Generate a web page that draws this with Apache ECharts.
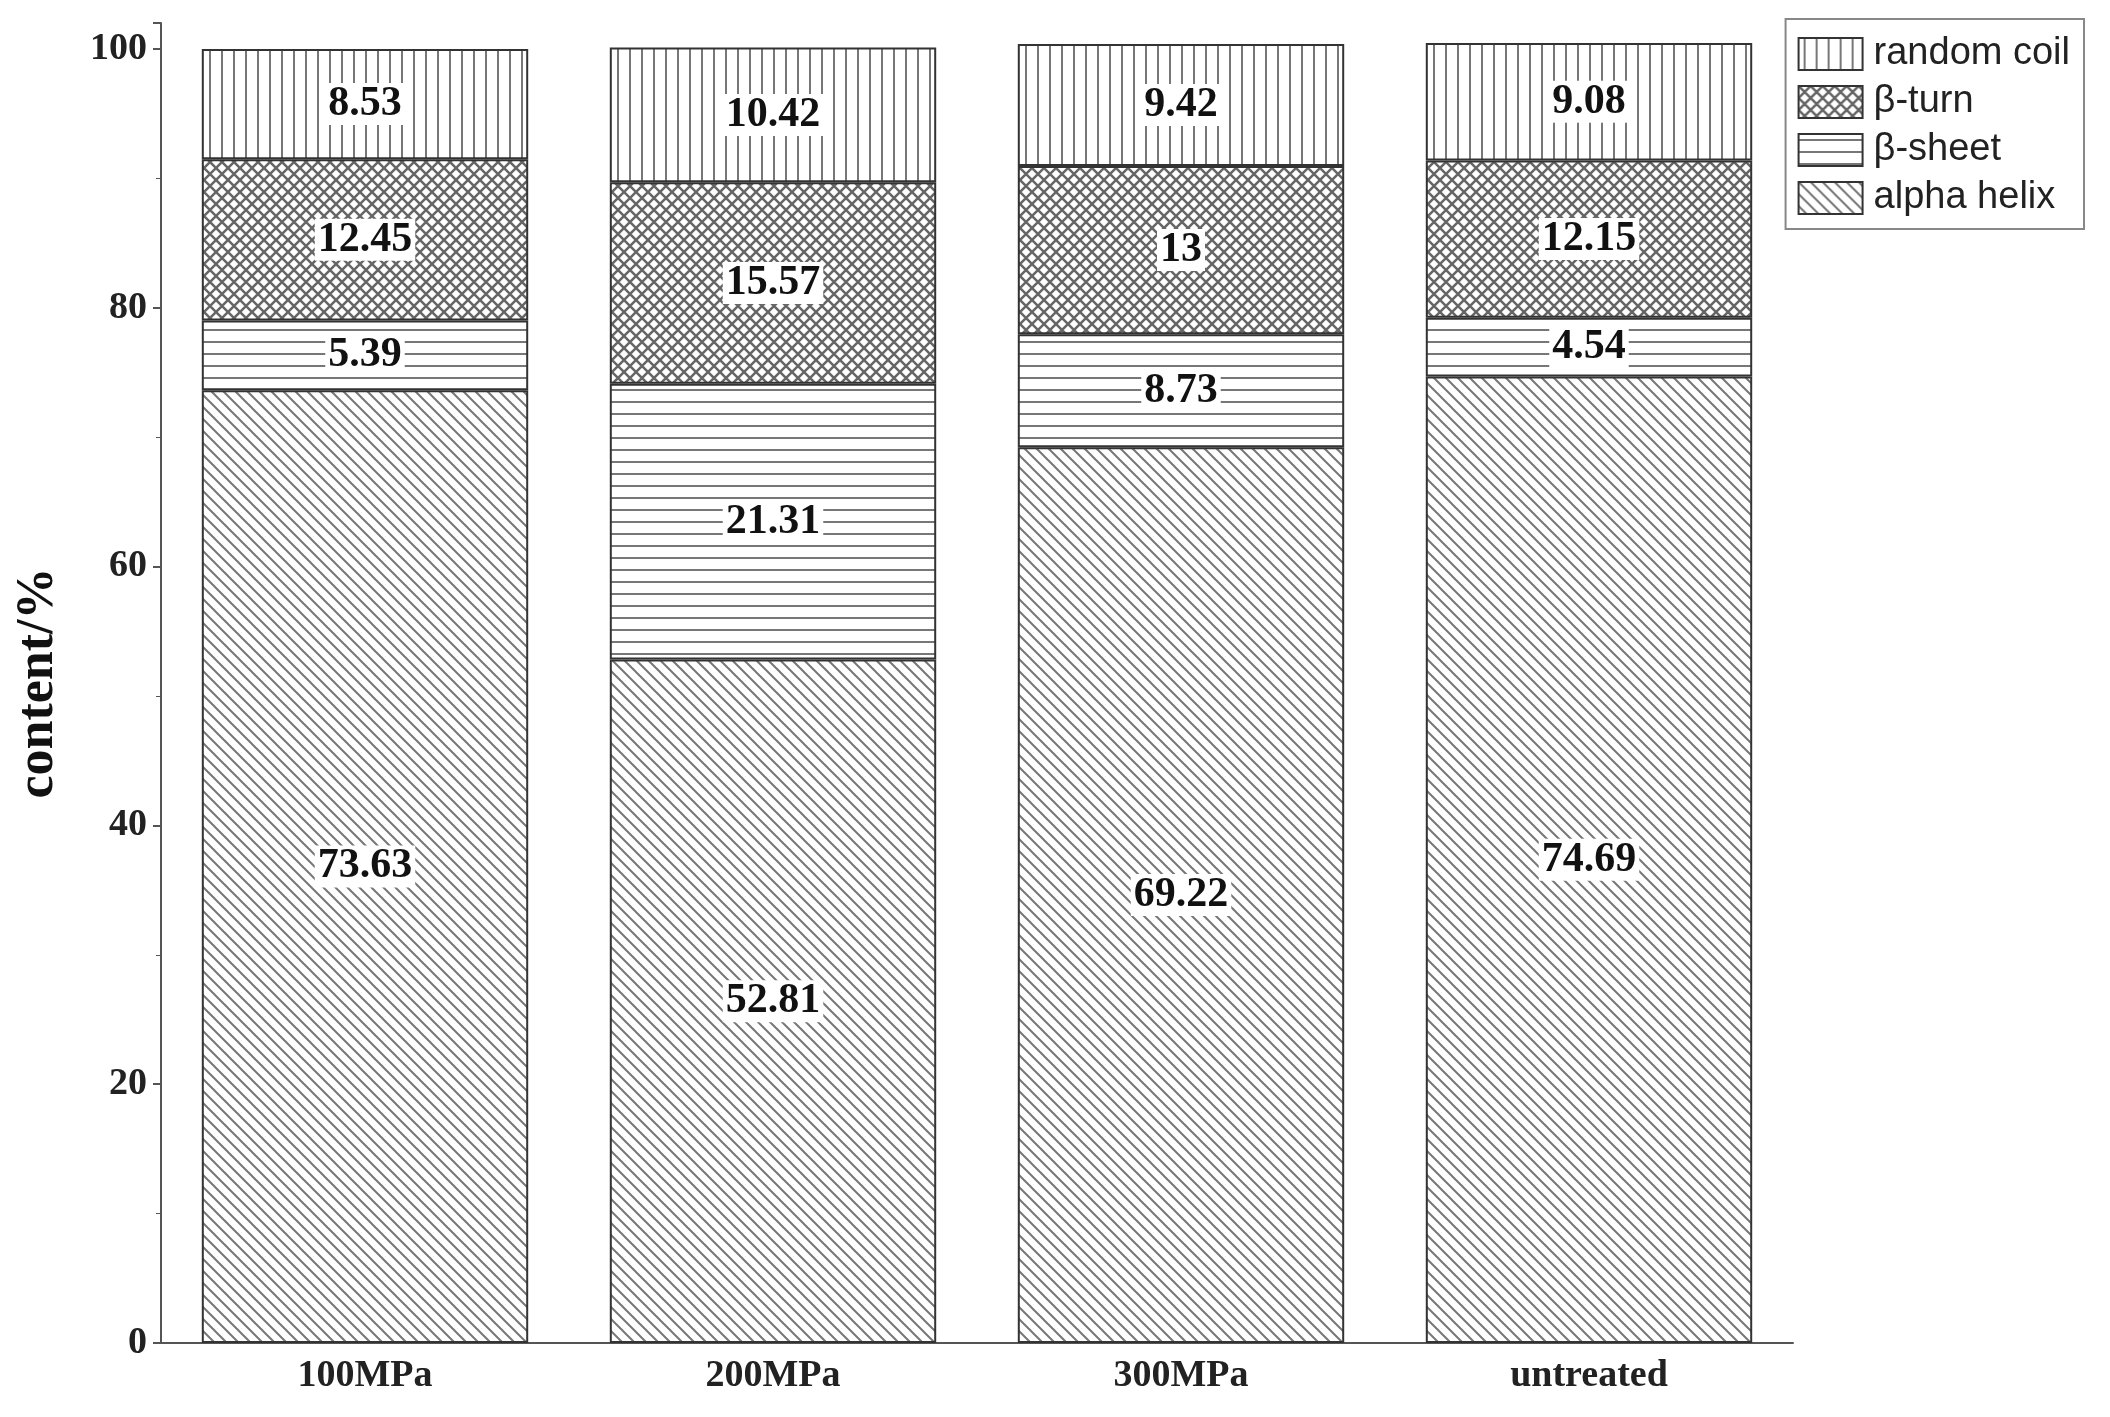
<!DOCTYPE html>
<html>
<head>
<meta charset="utf-8">
<script src="https://cdn.jsdelivr.net/npm/echarts@6/dist/echarts.min.js"></script>
<style>html,body{margin:0;background:#fff}#chart{width:2110px;height:1417px}</style>
</head>
<body>
<div id="chart"></div>
<script>
var categories = ['100MPa', '200MPa', '300MPa', 'untreated'];
var alphaHelix = [73.63, 52.81, 69.22, 74.69];
var betaSheet = [5.39, 21.31, 8.73, 4.54];
var betaTurn = [12.45, 15.57, 13, 12.15];
var randomCoil = [8.53, 10.42, 9.42, 9.08];

function pattern(kind) {
    var c = document.createElement('canvas');
    var s = 12;
    c.width = s; c.height = s;
    var g = c.getContext('2d');
    g.fillStyle = '#fff';
    g.fillRect(0, 0, s, s);
    g.strokeStyle = '#777';
    g.lineWidth = 2;
    g.beginPath();
    if (kind === 'v') { g.moveTo(6, 0); g.lineTo(6, s); }
    if (kind === 'h') { g.moveTo(0, 6); g.lineTo(s, 6); }
    if (kind === 'd') {
        g.moveTo(0, 0); g.lineTo(s, s);
        g.moveTo(-6, 6); g.lineTo(6, 18);
        g.moveTo(6, -6); g.lineTo(18, 6);
    }
    if (kind === 'x') {
        g.strokeStyle = '#666';
        g.lineWidth = 2.5;
        g.moveTo(0, 0); g.lineTo(s, s);
        g.moveTo(s, 0); g.lineTo(0, s);
    }
    g.stroke();
    return { image: c, repeat: 'repeat' };
}

var label = {
    show: true,
    position: 'inside',
    color: '#111',
    fontFamily: 'Liberation Serif',
    fontWeight: 'bold',
    fontSize: 42,
    backgroundColor: '#fff',
    padding: [0, 3]
};

function mk(name, data, kind) {
    return {
        name: name, type: 'bar', stack: 'all', data: data, barWidth: '80%',
        itemStyle: { color: pattern(kind), borderColor: '#333', borderWidth: 2 },
        label: label
    };
}

var chart = echarts.init(document.getElementById('chart'));
chart.setOption({
    animation: false,
    backgroundColor: '#fff',
    grid: { left: 161, right: 317, top: 23, bottom: 74 },
    legend: {
        orient: 'vertical', right: 26, top: 19, icon: 'rect',
        data: ['random coil', 'β-turn', 'β-sheet', 'alpha helix'],
        itemWidth: 64, itemHeight: 32, itemGap: 10,
        padding: [16, 14, 12, 12],
        borderColor: '#888', borderWidth: 2,
        textStyle: { fontFamily: 'Liberation Sans', fontSize: 38, color: '#222', padding: [0, 0, 0, 6] }
    },
    xAxis: {
        type: 'category', data: categories,
        axisLine: { lineStyle: { color: '#555', width: 2 } },
        axisTick: { show: false },
        axisLabel: { color: '#222', fontFamily: 'Liberation Serif', fontWeight: 'bold', fontSize: 38, margin: 14 }
    },
    yAxis: {
        type: 'value', min: 0, max: 102, interval: 20,
        name: 'content/%', nameLocation: 'middle', nameGap: 96,
        nameTextStyle: { color: '#111', fontFamily: 'Liberation Serif', fontWeight: 'bold', fontSize: 52 },
        axisLine: { show: true, lineStyle: { color: '#555', width: 2 } },
        axisTick: { show: true, inside: false, length: 8, lineStyle: { color: '#555', width: 2 } },
        minorTick: { show: true, splitNumber: 2, length: 5, lineStyle: { color: '#555' } },
        splitLine: { show: false },
        axisLabel: { color: '#222', fontFamily: 'Liberation Serif', fontWeight: 'bold', fontSize: 38, margin: 14 }
    },
    series: [
        mk('alpha helix', alphaHelix, 'd'),
        mk('β-sheet', betaSheet, 'h'),
        mk('β-turn', betaTurn, 'x'),
        mk('random coil', randomCoil, 'v')
    ]
});
</script>
</body>
</html>
